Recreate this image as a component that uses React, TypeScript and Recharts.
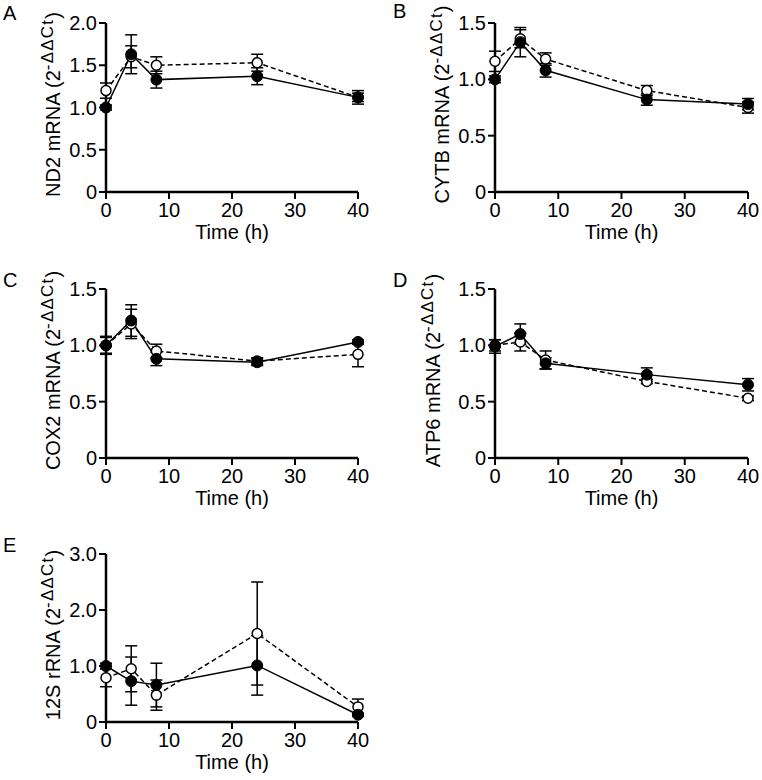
import React from 'react';
import { LineChart, Line, XAxis, YAxis, ErrorBar } from 'recharts';

// sampling times (h)
const times = [0, 4, 8, 24, 40];
const timeTicks = [0, 10, 20, 30, 40];

// A: ND2
const nd2Filled = [1.0, 1.63, 1.33, 1.37, 1.12];
const nd2FilledErr = [0.03, 0.23, 0.1, 0.1, 0.08];
const nd2Open = [1.2, 1.6, 1.5, 1.53, 1.12];
const nd2OpenErr = [0.09, 0.13, 0.1, 0.1, 0.05];

// B: CYTB
const cytbFilled = [1.0, 1.33, 1.08, 0.82, 0.78];
const cytbFilledErr = [0.03, 0.13, 0.06, 0.05, 0.05];
const cytbOpen = [1.16, 1.36, 1.18, 0.9, 0.75];
const cytbOpenErr = [0.09, 0.08, 0.055, 0.045, 0.05];

// C: COX2
const cox2Filled = [1.0, 1.22, 0.88, 0.85, 1.03];
const cox2FilledErr = [0.08, 0.14, 0.06, 0.03, 0.02];
const cox2Open = [1.0, 1.19, 0.95, 0.86, 0.92];
const cox2OpenErr = [0.07, 0.13, 0.06, 0.03, 0.11];

// D: ATP6
const atp6Filled = [0.99, 1.1, 0.84, 0.74, 0.65];
const atp6FilledErr = [0.06, 0.09, 0.05, 0.06, 0.055];
const atp6Open = [1.0, 1.03, 0.87, 0.68, 0.53];
const atp6OpenErr = [0.05, 0.08, 0.08, 0.02, 0.02];

// E: 12S
const s12Filled = [1.0, 0.73, 0.66, 1.01, 0.13];
const s12FilledErr = [0.05, 0.43, 0.39, 0.53, 0.03];
const s12Open = [0.79, 0.95, 0.48, 1.58, 0.27];
const s12OpenErr = [0.16, 0.41, 0.27, 0.92, 0.14];

const ticks2 = [0, 0.5, 1.0, 1.5, 2.0];
const ticks15 = [0, 0.5, 1.0, 1.5];
const ticks3 = [0, 1.0, 2.0, 3.0];

const FONT = '"Liberation Sans", Arial, Helvetica, sans-serif';
const W = 381;
const H = 260;

const buildRows = (filled: number[], filledErr: number[], open: number[], openErr: number[]) =>
  times.map((t, i) => ({ t, filled: filled[i], filledErr: filledErr[i], open: open[i], openErr: openErr[i] }));

const fmtY = (v: number) => (v === 0 ? '0' : v.toFixed(1));

interface PanelProps {
  letter: string;
  name: string;
  rows: ReturnType<typeof buildRows>;
  yMax: number;
  yTicks: number[];
  left: number;
  top: number;
  plotLeft: number;
  plotRight: number;
  plotTop: number;
  plotBottom: number;
  titleX: number;
  letterX: number;
  letterY: number;
}

const Panel: React.FC<PanelProps> = (p) => {
  const midY = (p.plotTop + p.plotBottom) / 2 - 3;
  const midX = (p.plotLeft + p.plotRight) / 2;

  const texts = () => (
    <g fontFamily={FONT} fill="#000">
      <text x={p.letterX} y={p.letterY} fontSize={20}>{p.letter}</text>
      <text
        x={p.titleX}
        y={midY}
        fontSize={20}
        textAnchor="middle"
        transform={`rotate(-90, ${p.titleX}, ${midY})`}
      >
        <tspan>{p.name} (2</tspan>
        <tspan fontSize={17} letterSpacing={1.2} dy={-7}>-ΔΔCt</tspan>
        <tspan dy={7}>)</tspan>
      </text>
      <text x={midX} y={p.plotBottom + 47} fontSize={20} textAnchor="middle">Time (h)</text>
    </g>
  );

  return (
    <div style={{ position: 'absolute', left: p.left, top: p.top, width: W, height: H }}>
      <LineChart
        width={W}
        height={H}
        data={p.rows}
        margin={{ top: p.plotTop, right: W - p.plotRight, bottom: 0, left: 0 }}
      >
        <XAxis
          dataKey="t"
          type="number"
          domain={[0, 40]}
          ticks={timeTicks}
          interval={0}
          height={H - p.plotBottom}
          axisLine={{ stroke: '#000', strokeWidth: 2.5 }}
          tickLine={{ stroke: '#000', strokeWidth: 2 }}
          tickSize={7}
          tickMargin={4}
          tick={{ fill: '#000', fontSize: 20, fontFamily: FONT }}
        />
        <YAxis
          type="number"
          domain={[0, p.yMax]}
          ticks={p.yTicks}
          interval={0}
          width={p.plotLeft}
          tickFormatter={fmtY}
          axisLine={{ stroke: '#000', strokeWidth: 2.5 }}
          tickLine={{ stroke: '#000', strokeWidth: 2 }}
          tickSize={7}
          tickMargin={2}
          tick={{ fill: '#000', fontSize: 20, fontFamily: FONT }}
          label={{ content: texts }}
        />
        <Line
          dataKey="open"
          stroke="#000"
          strokeWidth={1.5}
          strokeDasharray="5 3"
          dot={{ r: 5, fill: '#fff', stroke: '#000', strokeWidth: 1.5, strokeDasharray: '' }}
          activeDot={false}
          isAnimationActive={false}
        >
          <ErrorBar dataKey="openErr" width={6} stroke="#000" strokeWidth={1.5} isAnimationActive={false} />
        </Line>
        <Line
          dataKey="filled"
          stroke="#000"
          strokeWidth={1.5}
          dot={{ r: 5.5, fill: '#000', stroke: '#000', strokeWidth: 1 }}
          activeDot={false}
          isAnimationActive={false}
        >
          <ErrorBar dataKey="filledErr" width={6} stroke="#000" strokeWidth={1.5} isAnimationActive={false} />
        </Line>
      </LineChart>
    </div>
  );
};

export default function App() {
  return (
    <div style={{ position: 'absolute', left: 0, top: 0, width: 762, height: 780, background: '#fff' }}>
      <Panel letter="A" name="ND2 mRNA" rows={buildRows(nd2Filled, nd2FilledErr, nd2Open, nd2OpenErr)}
        yMax={2} yTicks={ticks2} left={0} top={0}
        plotLeft={106} plotRight={358} plotTop={23} plotBottom={192} titleX={60} letterX={3} letterY={20} />
      <Panel letter="B" name="CYTB mRNA" rows={buildRows(cytbFilled, cytbFilledErr, cytbOpen, cytbOpenErr)}
        yMax={1.5} yTicks={ticks15} left={381} top={0}
        plotLeft={114} plotRight={367} plotTop={23} plotBottom={192} titleX={68} letterX={12} letterY={18} />
      <Panel letter="C" name="COX2 mRNA" rows={buildRows(cox2Filled, cox2FilledErr, cox2Open, cox2OpenErr)}
        yMax={1.5} yTicks={ticks15} left={0} top={260}
        plotLeft={106} plotRight={358} plotTop={29} plotBottom={198} titleX={60} letterX={3} letterY={27} />
      <Panel letter="D" name="ATP6 mRNA" rows={buildRows(atp6Filled, atp6FilledErr, atp6Open, atp6OpenErr)}
        yMax={1.5} yTicks={ticks15} left={381} top={260}
        plotLeft={114} plotRight={367} plotTop={29} plotBottom={198} titleX={59} letterX={12} letterY={27} />
      <Panel letter="E" name="12S rRNA" rows={buildRows(s12Filled, s12FilledErr, s12Open, s12OpenErr)}
        yMax={3} yTicks={ticks3} left={0} top={520}
        plotLeft={106} plotRight={358} plotTop={34} plotBottom={202} titleX={60} letterX={3} letterY={32} />
    </div>
  );
}
